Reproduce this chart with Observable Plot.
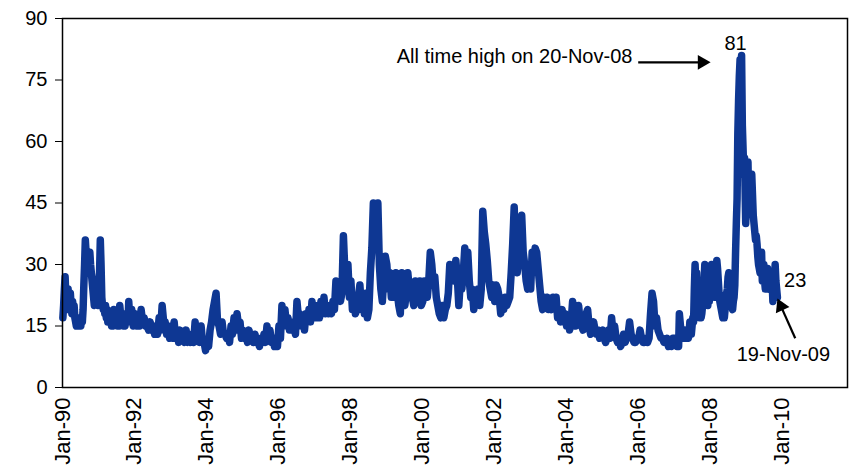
<!DOCTYPE html>
<html><head><meta charset="utf-8">
<script src="https://cdn.jsdelivr.net/npm/d3@7"></script>
<script src="https://cdn.jsdelivr.net/npm/@observablehq/plot@0.6"></script>
<style>html,body{margin:0;padding:0;background:#fff}</style>
</head><body><div id="chart"></div>
<script>
// VIX readings; each year's readings are spread evenly over that year
const years = [1990,1991,1992,1993,1994,1995,1996,1997,1998,1999,2000,2001,2002,2003,2004,2005,2006,2007,2008,2009];
const v1990 = [17,20,24,27, 22,24,21,24, 19,21,23,20, 18,21,19,20, 17,16,15,16, 16,15,17,15,
               15,17,16,19, 25,30,36,33, 28,31,32,29, 33,30,28,26, 24,22,20,21, 23,21,22,20];
const v1991 = [26,28,36,30, 22,20,19,20, 18,20,17,19, 16,18,17,16, 17,15,16,15, 19,17,16,18,
               17,15,16,15, 20,18,16,17, 17,15,16,15, 18,16,17,16, 21,18,17,19, 19,17,15,16];
const v1992 = [18,15, 17,15, 19,16, 17,15, 15,14, 16,14, 15,13, 15,13, 17,14, 20,16, 16,13, 14,12];
const v1993 = [15,12, 16,12, 14,11, 14,12, 13,11, 14,11, 13,11, 12,11, 16,12, 14,11, 15,11, 11,9];
const v1994 = [11,10, 14,16, 19,21, 23,16, 15,13, 16,13, 13,12, 13,11, 15,13, 17,14, 18,15, 16,12];
const v1995 = [14,12, 13,11, 14,12, 12,11, 13,11, 11,10, 12,11, 13,11, 15,12, 14,11, 12,10, 12,10];
const v1996 = [15,12, 20,16, 19,15, 17,14, 16,14, 15,13, 21,17, 18,15, 17,14, 18,16, 19,16, 21,17];
const v1997 = [20,17, 19,17, 21,18, 22,18, 19,18, 20,18, 21,19, 26,22, 24,21, 23,37, 28,24, 30,22];
const v1998 = [26,19, 21,18, 19,22, 25,19, 21,18, 23,17, 19,28, 34,45, 43,41, 45,30, 24,21, 27,32];
const v1999 = [30,24, 28,22, 26,22, 28,23, 20,18, 28,22, 20,23, 28,24, 25,22, 20,26, 22,21, 26,20];
const v2000 = [21,26, 24,22, 26,33, 30,25, 27,22, 20,18, 17,20, 17,19, 20,23, 30,26, 28,26, 31,27];
const v2001 = [20,26, 24,28, 34,30, 33,26, 22,24, 19,22, 21,24, 20,24, 43,38, 35,31, 26,24, 22,25];
const v2002 = [21,25, 24,22, 18,20, 19,22, 20,21, 22,28, 35,44, 32,28, 32,40, 42,33, 30,26, 24,29];
const v2003 = [24,33, 31,34, 33,29, 25,21, 19,22, 20,22, 19,21, 19,22, 20,22, 17,19, 16,19, 16,18];
const v2004 = [15,17, 14,16, 21,17, 15,18, 20,16, 15,14, 16,18, 19,15, 13,14, 16,14, 13,14, 12,13];
const v2005 = [14,12, 11,12, 14,12, 17,13, 15,12, 11,12, 10,11, 13,11, 12,13, 16,13, 12,11, 11,12];
const v2006 = [12,14, 12,11, 11,12, 11,12, 18,23, 21,15, 17,14, 13,12, 12,11, 11,12, 10,11, 10,12];
const v2007 = [11,12,11,12, 10,11,10,18, 16,14,13,12, 13,12,13,14, 13,12,13,12, 13,16,15,13,
               15,17,16,24, 30,25,28,22, 26,20,17,19, 17,18,20,22, 26,30,27,23, 22,20,23,21];
const v2008 = [23,27,30,26, 25,28,24,22, 26,31,29,26, 23,21,20,19, 18,17,18,17, 19,21,23,24,
               27,28,25,22, 21,20,19,21, 22,25,33,40, 46,62,70,76, 80,74,81,64, 58,52,56,45];
const v2009 = [40,45,52,55, 44,48,46,50, 52,47,42,40, 38,36,37,35, 32,30,29,28, 30,33,26,27,
               30,26,24,25, 26,29,25,24, 26,24,25,26, 21,23,25,30, 26,24,22];
const seriesByYear = [v1990,v1991,v1992,v1993,v1994,v1995,v1996,v1997,v1998,v1999,v2000,v2001,v2002,v2003,v2004,v2005,v2006,v2007,v2008,v2009];
const lastDate = "2009-11-19";

const yTicks = [0, 15, 30, 45, 60, 75, 90];
const xTickYears = [1990,1992,1994,1996,1998,2000,2002,2004,2006,2008,2010];

// annotations
const highLabel = [{date: "2005-11-07", v: 80.7, text: "All time high on 20-Nov-08"}];
const peakLabel = [{date: "2008-09-20", v: 83.9, text: "81"}];
const lastValueLabel = [{date: "2010-05-19", v: 26.1, text: "23"}];
const lastDateLabel = [{date: "2010-01-19", v: 8.0, text: "19-Nov-09"}];
const arrowShafts = [
  {x1: "2006-01-05", y1: 79.3, x2: "2007-11-20", y2: 79.3},
  {x1: "2010-05-19", y1: 12.0, x2: "2009-12-14", y2: 20.4}
];
const arrowHeads = [
  {date: "2008-01-10", v: 79.3, rot: 90},
  {date: "2009-11-19", v: 21.7, rot: -24}
];

const pd = s => new Date(s + "T00:00:00Z");
const data = [];
seriesByYear.forEach((vals, k) => {
  const t0 = Date.UTC(years[k], 0, 1);
  const last = k === seriesByYear.length - 1;
  const t1 = last ? +pd(lastDate) : Date.UTC(years[k] + 1, 0, 1);
  vals.forEach((v, i) => {
    const f = last ? i / (vals.length - 1) : (i + 0.5) / vals.length;
    data.push({date: new Date(t0 + f * (t1 - t0)), vix: v});
  });
});

const chart = Plot.plot({
  width: 852, height: 474,
  marginLeft: 62, marginRight: 5, marginTop: 18, marginBottom: 87,
  style: {fontFamily: "'Liberation Sans', Arial, sans-serif", fontSize: "20px", color: "#000", background: "#fff", overflow: "visible"},
  x: {type: "utc", domain: [pd("1990-01-01"), pd("2011-11-01")],
      ticks: xTickYears.map(y => new Date(Date.UTC(y, 0, 1))),
      tickFormat: d => "Jan-" + String(d.getUTCFullYear()).slice(-2),
      tickRotate: -90, tickSize: 0, tickPadding: 10, label: null},
  y: {domain: [0, 90], ticks: yTicks, tickSize: 7, tickPadding: 8, label: null},
  marks: [
    Plot.line(data, {x: "date", y: "vix", stroke: "#0e3793", strokeWidth: 7.5, strokeLinejoin: "round", strokeLinecap: "round"}),
    Plot.frame({stroke: "#000", strokeWidth: 1.5}),
    Plot.text(highLabel, {x: d => pd(d.date), y: "v", text: "text", textAnchor: "end", fill: "#000"}),
    Plot.text(peakLabel, {x: d => pd(d.date), y: "v", text: "text", fill: "#000"}),
    Plot.text(lastValueLabel, {x: d => pd(d.date), y: "v", text: "text", fill: "#000"}),
    Plot.text(lastDateLabel, {x: d => pd(d.date), y: "v", text: "text", fill: "#000"}),
    Plot.link(arrowShafts, {x1: d => pd(d.x1), y1: "y1", x2: d => pd(d.x2), y2: "y2", stroke: "#000", strokeWidth: 2.2}),
    Plot.dot(arrowHeads, {x: d => pd(d.date), y: "v", symbol: "triangle", r: 5.5, fill: "#000", stroke: "none", rotate: "rot"})
  ]
});
// larger x tick labels, as in the reference
chart.querySelectorAll('g[aria-label="x-axis tick label"] text, g[aria-label="x-axis"] text').forEach(t => t.setAttribute("font-size", "22"));
// shift arrow heads so their tips land on the targets
const heads = chart.querySelectorAll('g[aria-label="dot"] path');
if (heads.length === 2) {
  const off = [[-8.5, 0], [3.5, 7.7]];
  heads.forEach((p, i) => {
    const tr = p.getAttribute("transform") || "";
    p.setAttribute("transform", `translate(${off[i][0]},${off[i][1]}) ` + tr);
  });
}
document.getElementById("chart").appendChild(chart);
</script>
</body></html>
